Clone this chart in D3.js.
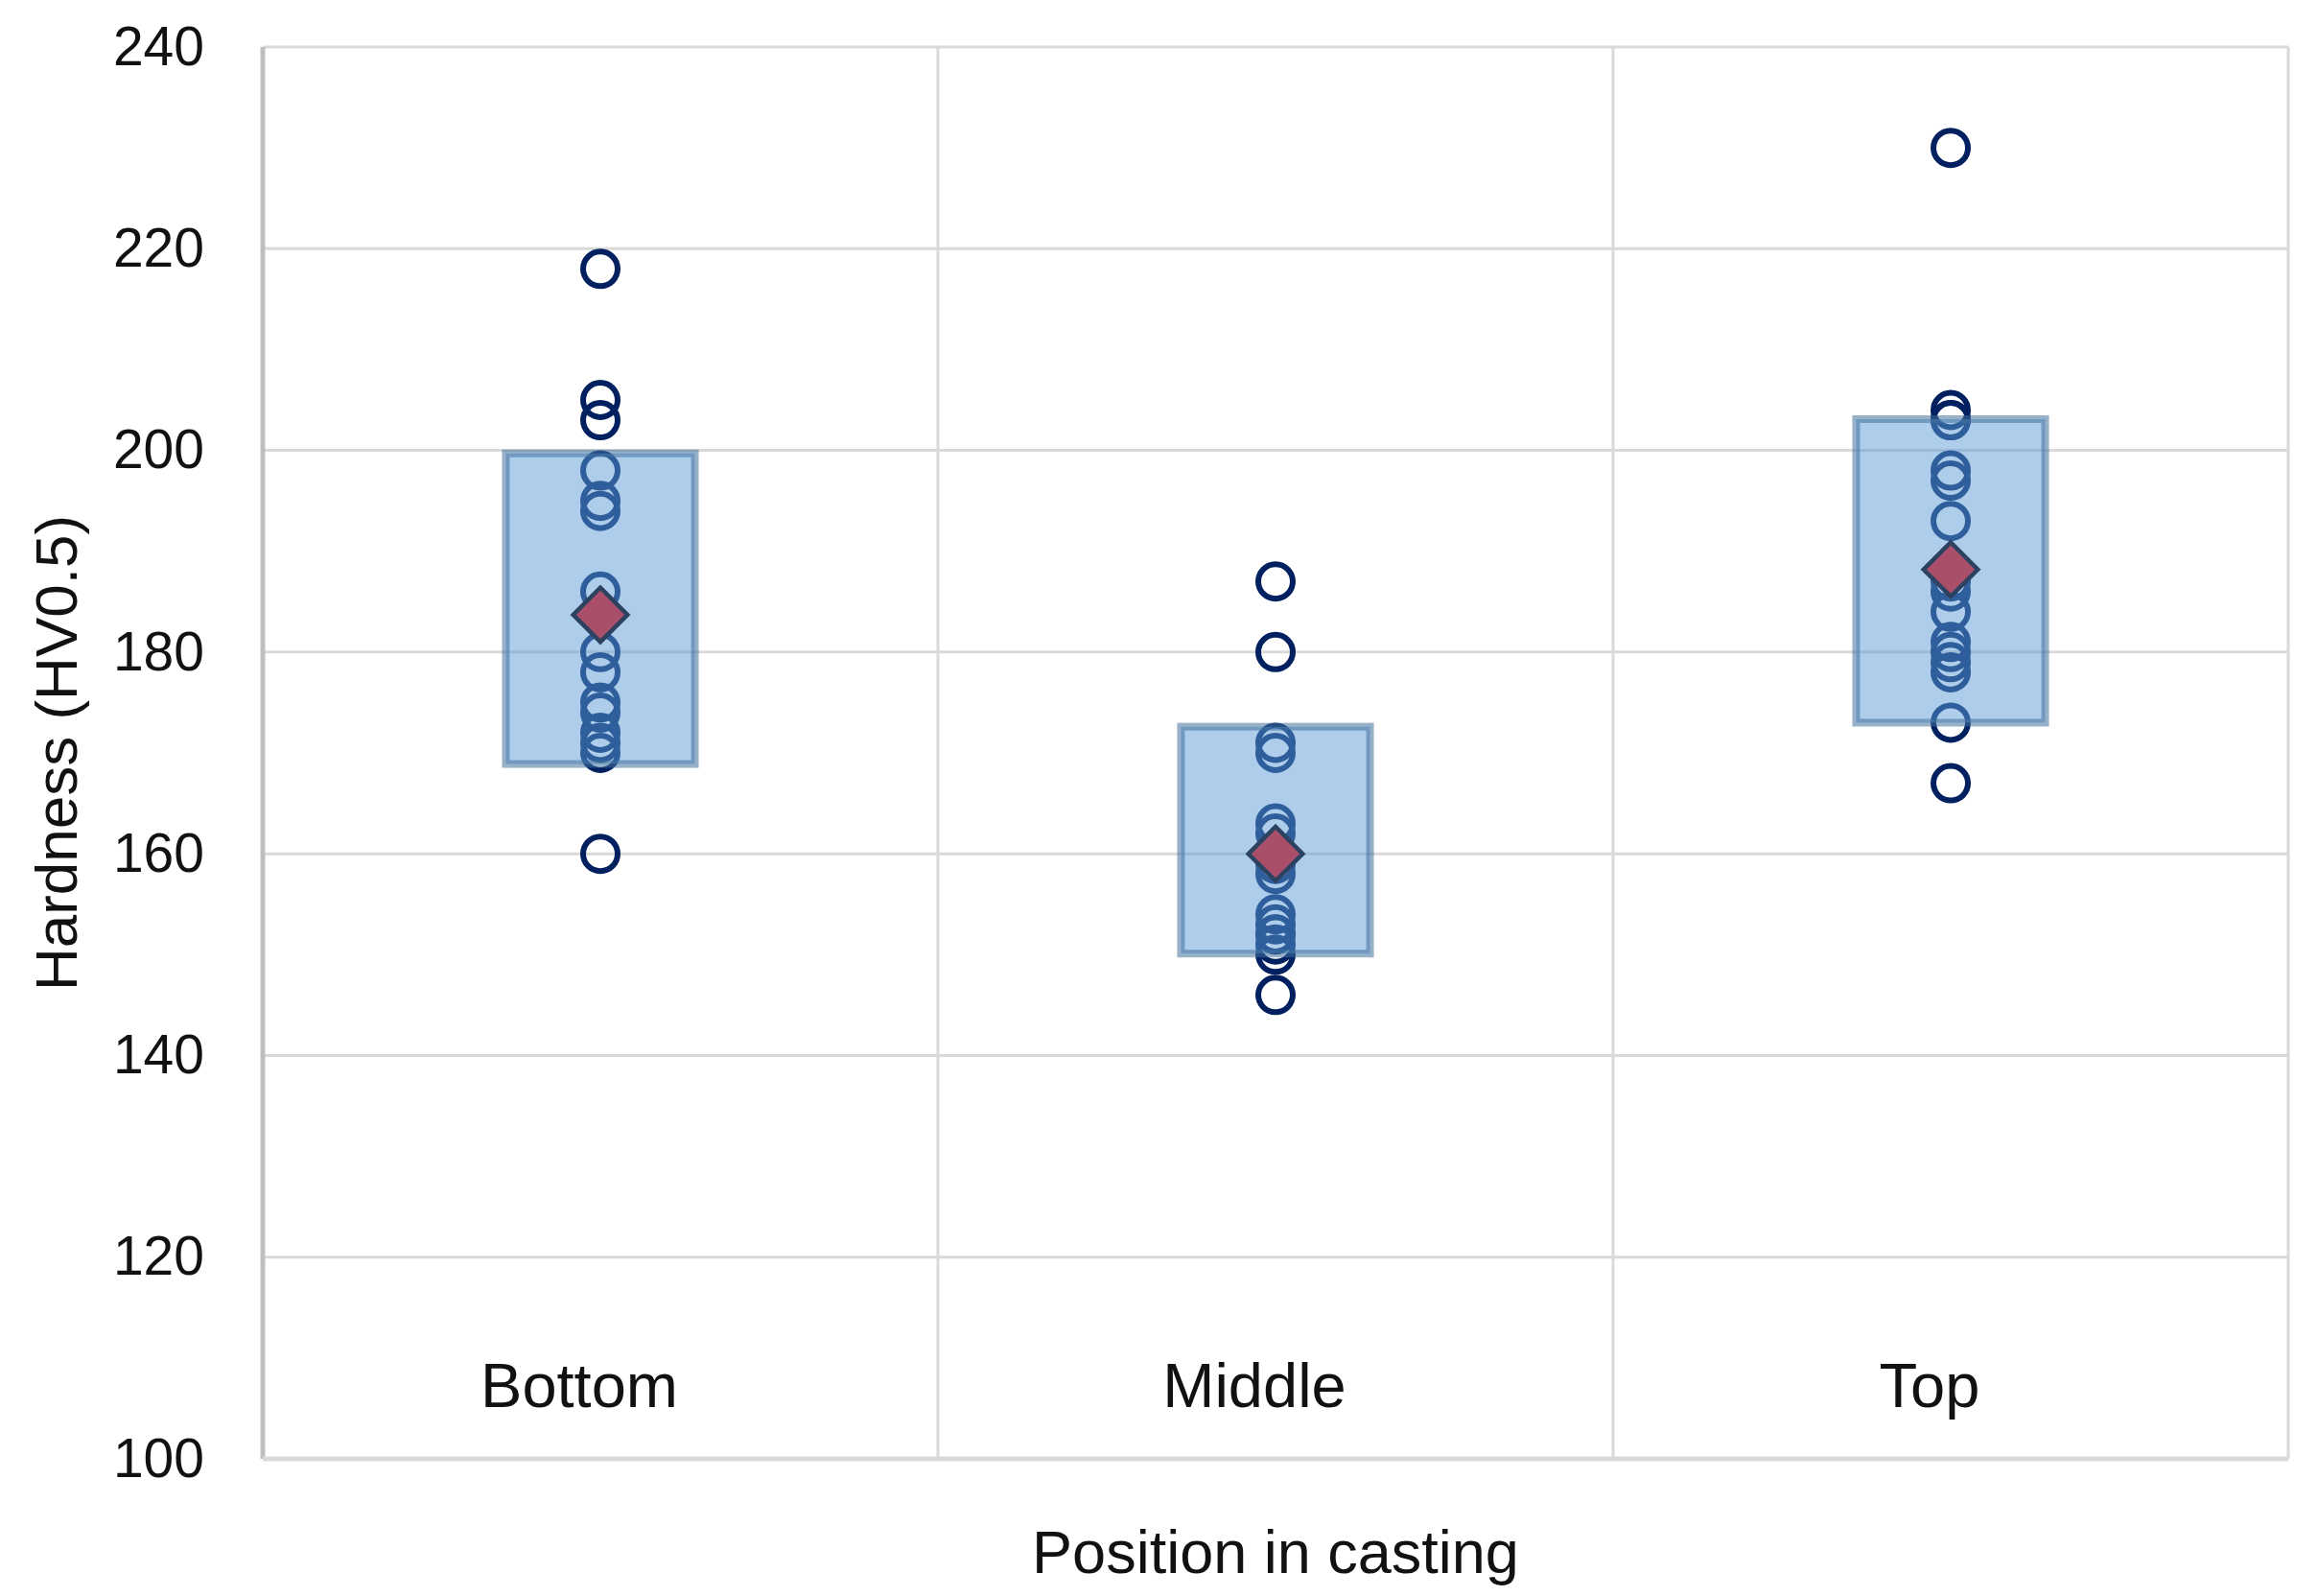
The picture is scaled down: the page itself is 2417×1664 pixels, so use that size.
<!DOCTYPE html>
<html>
<head>
<meta charset="utf-8">
<script src="https://cdn.jsdelivr.net/npm/d3@7"></script>
<style>
    body { margin: 0; background: #fff; }
    svg text { font-family: "Liberation Sans", Arial, sans-serif; fill: #111; }
</style>
</head>
<body>
<div id="chart"></div>
<script>

// categories along the x axis
var categories = ["Bottom", "Middle", "Top"];

// individual hardness readings per position (HV0.5)
var bottomValues = [218, 205, 203, 198, 195, 194, 186, 180, 178, 175, 174, 172, 171, 170, 160];
var middleValues = [187, 180, 171, 170, 163, 162, 159, 158, 154, 153, 152, 152, 151, 150, 146];
var topValues    = [230, 204, 203, 203, 198, 197, 193, 187, 186, 184, 181, 180, 179, 178, 173, 167];

// mean marker and shaded band (low / high) per position
var meanValues = [183.7, 160.0, 188.2];
var bandLow    = [168.9, 150.1, 173.0];
var bandHigh   = [199.7, 172.6, 203.1];

// y axis ticks
var yTicks = [100, 120, 140, 160, 180, 200, 220, 240];

var axisTitleX = "Position in casting";
var axisTitleY = "Hardness (HV0.5)";

/**
 * Draws the whole chart
 */
function drawChart(){

    var width = 2417, height = 1664;
    var margin = {top: 49, right: 31, bottom: 143, left: 274};
    var plotW = width - margin.left - margin.right;
    var plotH = height - margin.top - margin.bottom;

    var svg = d3.select("#chart").append("svg")
        .attr("width", width)
        .attr("height", height);

    var g = svg.append("g")
        .attr("transform", "translate(" + margin.left + "," + margin.top + ")");

    var x = d3.scaleBand().domain(categories).range([0, plotW]).padding(0);
    var y = d3.scaleLinear().domain([100, 240]).range([plotH, 0]);

    //horizontal gridlines
    g.selectAll(".hgrid")
        .data(yTicks)
        .enter().append("line")
        .attr("class", "hgrid")
        .attr("x1", 0).attr("x2", plotW)
        .attr("y1", function(d){ return y(d); })
        .attr("y2", function(d){ return y(d); })
        .attr("stroke", "#d9d9d9")
        .attr("stroke-width", 3);

    //vertical gridlines at category boundaries and the right edge
    g.selectAll(".vgrid")
        .data(categories.slice(1).concat(["end"]))
        .enter().append("line")
        .attr("class", "vgrid")
        .attr("x1", function(d){ return d == "end" ? plotW : x(d); })
        .attr("x2", function(d){ return d == "end" ? plotW : x(d); })
        .attr("y1", 0).attr("y2", plotH)
        .attr("stroke", "#d9d9d9")
        .attr("stroke-width", 3);

    //axis lines (left and bottom)
    g.append("line")
        .attr("x1", 0).attr("x2", 0)
        .attr("y1", 0).attr("y2", plotH)
        .attr("stroke", "#bfbfbf")
        .attr("stroke-width", 5);
    g.append("line")
        .attr("x1", 0).attr("x2", plotW)
        .attr("y1", plotH).attr("y2", plotH)
        .attr("stroke", "#d9d9d9")
        .attr("stroke-width", 5);

    //y tick labels
    var yAxis = d3.axisLeft(y).tickValues(yTicks).tickSize(0).tickPadding(61);
    var yAxisG = g.append("g").call(yAxis);
    yAxisG.select(".domain").remove();
    yAxisG.selectAll("text")
        .style("font-size", "57px")
        .style("font-family", "Liberation Sans, Arial, sans-serif")
        .attr("fill", "#111");

    //points per category
    var series = [bottomValues, middleValues, topValues];
    var points = [];
    series.forEach(function(vals, i){
        vals.forEach(function(v){
            points.push({cat: categories[i], value: v});
        });
    });

    g.selectAll(".pt")
        .data(points)
        .enter().append("circle")
        .attr("class", "pt")
        .attr("cx", function(d){ return x(d.cat) + x.bandwidth()/2; })
        .attr("cy", function(d){ return y(d.value); })
        .attr("r", 18)
        .attr("fill", "none")
        .attr("stroke", "#002060")
        .attr("stroke-width", 6);

    //shaded bands, drawn over the points
    var boxW = x.bandwidth() * 0.28;
    var bands = categories.map(function(c, i){
        return {cat: c, low: bandLow[i], high: bandHigh[i], mean: meanValues[i]};
    });

    g.selectAll(".band")
        .data(bands)
        .enter().append("rect")
        .attr("class", "band")
        .attr("x", function(d){ return x(d.cat) + x.bandwidth()/2 - boxW/2; })
        .attr("y", function(d){ return y(d.high); })
        .attr("width", boxW)
        .attr("height", function(d){ return y(d.low) - y(d.high); })
        .attr("fill", "#5B9BD5")
        .attr("fill-opacity", 0.5)
        .attr("stroke", "#41719C")
        .attr("stroke-opacity", 0.55)
        .attr("stroke-width", 8);

    //mean markers (rotated square)
    var diamond = d3.symbol().type(d3.symbolSquare).size(1600);
    g.selectAll(".mean")
        .data(bands)
        .enter().append("path")
        .attr("class", "mean")
        .attr("d", diamond)
        .attr("transform", function(d){
            return "translate(" + (x(d.cat) + x.bandwidth()/2) + "," + y(d.mean) + ") rotate(45)";
        })
        .attr("fill", "#a94f6a")
        .attr("stroke", "#2c4260")
        .attr("stroke-width", 4.5);

    //category labels sit inside the plot near the bottom
    g.selectAll(".catlabel")
        .data(categories)
        .enter().append("text")
        .attr("class", "catlabel")
        .attr("x", function(d){ return x(d) + x.bandwidth()/2 - 22; })
        .attr("y", plotH - 54)
        .attr("text-anchor", "middle")
        .style("font-size", "65px")
        .text(function(d){ return d; });

    //axis titles
    svg.append("text")
        .attr("x", margin.left + plotW/2)
        .attr("y", 1640)
        .attr("text-anchor", "middle")
        .style("font-size", "63px")
        .text(axisTitleX);

    svg.append("text")
        .attr("transform", "translate(80," + (margin.top + plotH/2) + ") rotate(-90)")
        .attr("text-anchor", "middle")
        .style("font-size", "62px")
        .text(axisTitleY);
}

drawChart();
</script>
</body>
</html>
